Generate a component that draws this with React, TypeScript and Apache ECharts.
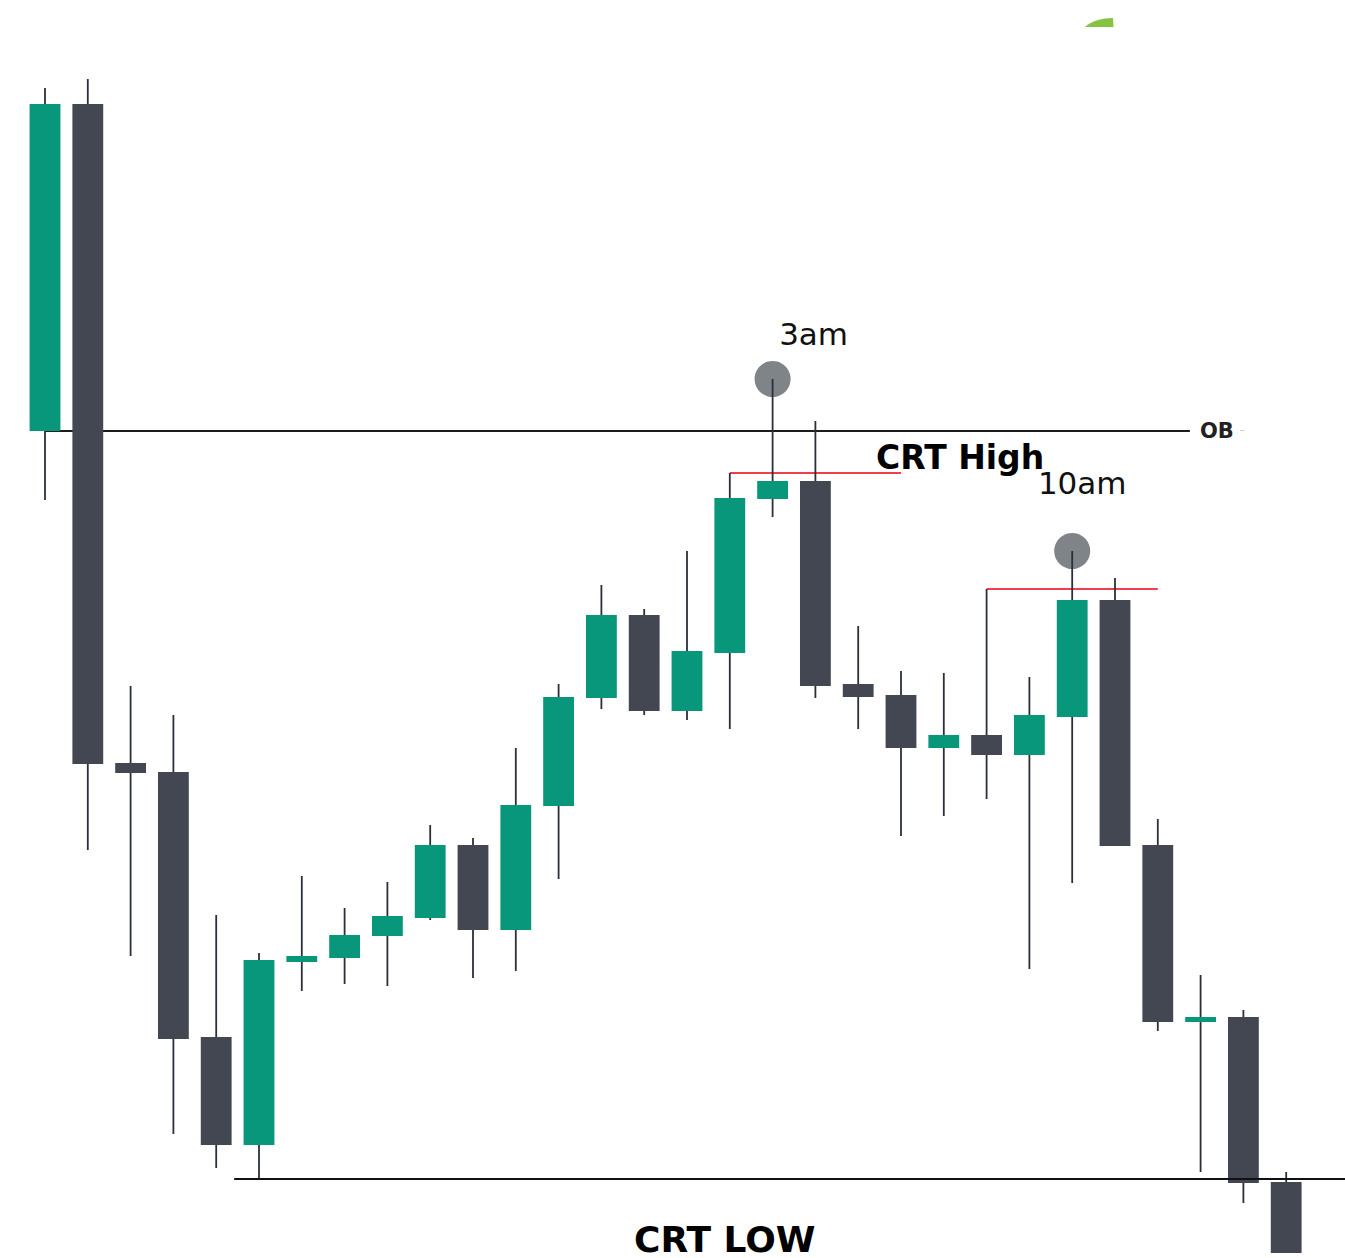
import React, { useEffect, useRef } from "react";
import * as echarts from "echarts";

// Candle data (price in arbitrary chart units), one entry per session bar
const bars = [
  "b01", "b02", "b03", "b04", "b05", "b06", "b07", "b08", "b09", "b10",
  "b11", "b12", "b13", "b14", "b15", "b16", "b17", "b18", "b19", "b20",
  "b21", "b22", "b23", "b24", "b25", "b26", "b27", "b28", "b29", "b30",
];
const opens = [
  827, 1154, 495, 486, 221, 113, 296, 300, 322, 340,
  413, 328, 452, 560, 643, 547, 605, 759, 777, 574,
  563, 510, 523, 503, 541, 658, 413, 236, 241, 76,
];
const closes = [
  1154, 494, 485, 219, 113, 298, 302, 323, 342, 413,
  328, 453, 561, 643, 547, 607, 760, 777, 572, 561,
  510, 523, 503, 543, 658, 412, 236, 241, 75, 5,
];
const lows = [
  758, 408, 302, 124, 90, 79, 267, 274, 272, 338,
  280, 287, 379, 549, 543, 538, 529, 741, 560, 529,
  422, 442, 459, 289, 375, 412, 227, 86, 55, 5,
];
const highs = [
  1170, 1179, 572, 543, 343, 305, 382, 350, 376, 433,
  420, 510, 574, 673, 649, 707, 785, 879, 837, 632,
  587, 585, 669, 581, 707, 680, 439, 283, 248, 86,
];

// Marked swing highs (bar index) and their labels
const markedBars = [17, 24];
const markedLabels = ["3am", "10am"];

const GREEN = "#08977a";
const DARK = "#434751";
const WICK = "#2b2f3a";
const RED = "#ef3f4f";

const X_MAX = 30.374;

export default function App() {
  const ref = useRef<HTMLDivElement>(null);

  useEffect(() => {
    if (!ref.current) return;
    const chart = echarts.init(ref.current, null, { renderer: "svg" });

    const candleData = bars.map((_, i) => [i, opens[i], closes[i], lows[i], highs[i]]);

    const obLevel = opens[0];
    const crtHigh = highs[16];
    const tenHigh = highs[22];
    const crtLow = lows[5];

    const hline = (name: string, x0: number, x1: number, y: number, color: string, width: number, z: number) => ({
      name,
      type: "line",
      data: [
        [x0, y],
        [x1, y],
      ],
      symbol: "none",
      clip: false,
      silent: true,
      z,
      lineStyle: { color, width },
    });

    chart.setOption({
      animation: false,
      backgroundColor: "#ffffff",
      grid: { left: 23.6, right: 0, top: 0, bottom: 0 },
      xAxis: { type: "value", min: -0.5, max: X_MAX, show: false, splitLine: { show: false } },
      yAxis: { type: "value", min: 0, max: 1258, show: false, splitLine: { show: false } },
      series: [
        {
          type: "scatter",
          z: 1,
          symbolSize: 36,
          itemStyle: { color: "#7f8489", opacity: 1 },
          label: {
            show: true,
            position: "inside",
            formatter: "{b}",
            fontFamily: "DejaVu Sans",
            fontSize: 31,
            color: "#111111",
          },
          data: markedBars.map((b, k) => ({
            name: markedLabels[k],
            value: [b, highs[b]],
            label: { offset: k === 0 ? [41, -45] : [10, -68] },
          })),
        },
        hline("OB", 0, 26.75, obLevel, "#1c1c1c", 2, 2),
        hline("CRT High", 16, 20, crtHigh, RED, 2, 2),
        hline("10am High", 22, 26, tenHigh, RED, 2, 2),
        {
          type: "custom",
          z: 3,
          encode: { x: 0, y: [1, 2, 3, 4] },
          data: candleData,
          renderItem: (params: any, api: any) => {
            const i = api.value(0);
            const o = api.value(1);
            const c = api.value(2);
            const l = api.value(3);
            const h = api.value(4);
            const pH = api.coord([i, h]);
            const pL = api.coord([i, l]);
            const pO = api.coord([i, o]);
            const pC = api.coord([i, c]);
            const bw = api.size([1, 0])[0] * 0.72;
            const up = c >= o;
            const top = Math.min(pO[1], pC[1]);
            const hgt = Math.max(Math.abs(pO[1] - pC[1]), 2);
            return {
              type: "group",
              children: [
                {
                  type: "line",
                  shape: { x1: pH[0], y1: pH[1], x2: pL[0], y2: pL[1] },
                  style: { stroke: WICK, lineWidth: 1.8 },
                },
                {
                  type: "rect",
                  shape: { x: pO[0] - bw / 2, y: top, width: bw, height: hgt },
                  style: { fill: up ? GREEN : DARK },
                },
              ],
            };
          },
        },
        hline("CRT Low", 4.42, X_MAX, crtLow, "#111111", 2, 4),
      ],
      graphic: [
        {
          type: "text",
          x: 876,
          y: 457,
          z: 10,
          style: {
            text: "CRT High",
            fontFamily: "DejaVu Sans",
            fontWeight: "bold",
            fontSize: 33,
            fill: "#000000",
            align: "left",
            verticalAlign: "middle",
          },
        },
        {
          type: "text",
          x: 634,
          y: 1239,
          z: 10,
          style: {
            text: "CRT LOW",
            fontFamily: "DejaVu Sans",
            fontWeight: "bold",
            fontSize: 36,
            fill: "#000000",
            align: "left",
            verticalAlign: "middle",
          },
        },
        {
          type: "text",
          x: 1200,
          y: 431,
          z: 10,
          style: {
            text: "OB",
            fontFamily: "DejaVu Sans",
            fontWeight: "bold",
            fontSize: 21,
            fill: "#222222",
            align: "left",
            verticalAlign: "middle",
          },
        },
        {
          type: "text",
          x: 1240,
          y: 430,
          z: 10,
          style: {
            text: "-",
            fontFamily: "DejaVu Sans",
            fontSize: 12,
            fill: "#c4c4c4",
            align: "left",
            verticalAlign: "middle",
          },
        },
        {
          type: "polygon",
          z: 10,
          shape: {
            points: [
              [1085, 27],
              [1088, 24.5],
              [1093, 21.8],
              [1099, 19.8],
              [1105, 18.6],
              [1113, 18],
              [1113.5, 27],
            ],
          },
          style: { fill: "#84c441" },
        },
      ],
    });

    return () => chart.dispose();
  }, []);

  return (
    <div
      ref={ref}
      style={{ position: "absolute", left: 0, top: 0, width: 1345, height: 1258, background: "#fff" }}
    />
  );
}
